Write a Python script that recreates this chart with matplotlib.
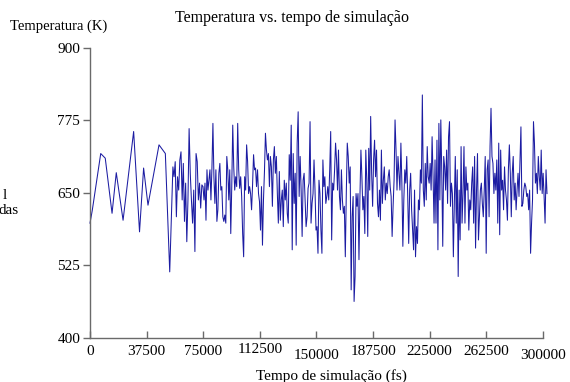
import numpy as np
import matplotlib
matplotlib.use("Agg")
import matplotlib.pyplot as plt
from matplotlib.transforms import ScaledTranslation

plt.rcParams['font.family'] = ['Liberation Serif', 'DejaVu Serif']

# trecho inicial (amostragem esparsa): tempo (fs) e temperatura (K)
t_inicio = [0, 1500, 7100, 10100, 14600, 17400, 21900, 28900, 32800, 35500, 38400, 45700, 49900, 52800]
T_inicio = [598, 620, 718, 710, 615, 685, 603, 756, 583, 693, 629, 733, 718, 514]

# trechos densos
T_a = [695, 678, 704, 609, 678, 655, 707, 721, 638, 701, 601, 667, 566, 638, 761, 684, 638, 598,
       655, 549, 718, 704, 638, 667, 624, 664]
T_b = [661, 638, 667, 603, 690, 655, 672, 690, 638, 693, 770, 678, 632, 690, 601, 621, 684, 701,
       655, 661, 609, 601, 612, 598, 713, 690, 638, 690, 580, 661, 767, 695, 655, 678, 661, 770,
       690, 658, 678, 644, 580, 540, 678, 655, 733, 704, 649, 661, 649, 621, 664, 716, 690, 693,
       661, 690, 649, 635, 586, 661, 560, 638, 687, 753, 724, 707, 718, 661, 713, 695, 627, 707,
       730, 684, 713, 649, 598, 687, 603, 638, 655, 592, 672, 638, 667, 615, 598, 716, 672, 767,
       552, 718, 632, 684, 560, 736, 790, 644, 713, 655, 575, 672, 684, 638, 592, 609, 658, 667,
       773, 598, 632, 649, 707, 655, 586, 592, 546, 672]
T_c = [649, 586, 546, 707, 661, 678, 632, 644, 661, 638, 690, 756, 569, 667, 655, 690, 736, 707,
       655, 724, 644, 621, 690, 638, 615, 627, 540, 649, 736, 713, 667, 695, 483, 609, 644, 463,
       506, 649, 627, 649, 535, 644, 724, 678, 621, 644, 580, 724, 672, 575, 727, 655, 782, 684,
       627, 707, 741, 678, 724, 632, 609, 655, 603, 724, 632, 672, 695, 638, 667, 649, 678, 690,
       661, 644, 575, 627, 672, 776, 724, 655, 713, 684, 655, 736, 667, 558, 638, 690, 667, 713,
       644, 563, 655, 684, 621, 586, 552, 655, 540, 592, 563, 638, 621, 690, 667, 819, 655, 627,
       701, 638, 730, 678, 667, 701, 655, 747, 678, 598]
T_d = [707, 598, 741, 552, 770, 638, 776, 684, 558, 713, 695, 655, 724, 632, 747, 773, 627, 667,
       649, 540, 632, 713, 598, 690, 506, 655, 569, 730, 598, 649, 730, 598, 695, 655, 667, 586,
       638, 621, 667, 695, 598, 713, 555, 655, 718, 569, 609, 655, 667, 632, 609, 655, 713, 546,
       690, 707, 609, 730, 796, 713, 701, 649, 684, 655, 707, 598, 736, 578, 724, 655, 672, 621,
       695, 655, 638, 603, 690, 733, 684, 609, 684, 713, 638, 667, 621, 655, 684, 644, 707, 764,
       627, 632, 655, 667, 661, 644, 649, 621, 655, 546, 598, 638, 773, 736, 667, 684, 649, 713,
       678, 655, 724, 649, 684, 644, 598, 690, 649]

# limites de tempo de cada trecho denso (fs)
limites = [54900, 74840, 152300, 228500, 303300]

trechos = [T_a, T_b, T_c, T_d]
tempo = list(t_inicio)
temp = list(T_inicio)
for i, tr in enumerate(trechos):
    tempo += list(np.linspace(limites[i], limites[i + 1], len(tr), endpoint=False))
    temp += tr

xticks = [0, 37500, 75000, 112500, 150000, 187500, 225000, 262500, 300000]
yticks = [400, 525, 650, 775, 900]

fig = plt.figure(figsize=(5.7, 3.82), dpi=100)
ax = fig.add_axes([0.1579, 0.1152, 0.7947, 0.7592])

ax.plot(tempo, temp, color='#1c1ca2', linewidth=0.75, clip_on=False)

ax.set_xlim(0, 300000)
ax.set_ylim(400, 900)
ax.set_xticks(xticks)
ax.set_xticklabels([str(v) for v in xticks])
ax.set_yticks(yticks)

for lado in ['top', 'right']:
    ax.spines[lado].set_visible(False)
for lado in ['left', 'bottom']:
    ax.spines[lado].set_color('#6a6a6a')
    ax.spines[lado].set_linewidth(1.0)

ax.tick_params(axis='y', direction='out', length=5, width=1, color='#6a6a6a', pad=2, labelsize=11)
ax.tick_params(axis='x', direction='in', length=5, width=1, color='#6a6a6a', pad=5, labelsize=11)

# alguns rótulos do eixo x ficam um pouco mais abaixo
for lab in ax.get_xticklabels():
    if lab.get_text() in ('150000', '300000'):
        lab.set_transform(lab.get_transform() + ScaledTranslation(0, -3 / 72, fig.dpi_scale_trans))
    elif lab.get_text() == '112500':
        lab.set_transform(lab.get_transform() + ScaledTranslation(0, 1.5 / 72, fig.dpi_scale_trans))

fig.text(0.512, 0.953, 'Temperatura vs. tempo de simulação', ha='center', va='center', fontsize=11.5)
fig.text(0.0175, 0.932, 'Temperatura (K)', ha='left', va='center', fontsize=10.5)
fig.text(0.581, 0.016, 'Tempo de simulação (fs)', ha='center', va='center', fontsize=11)

# restos de texto cortado na margem esquerda
fig.text(0.004, 0.487, 'l', ha='left', va='center', fontsize=11)
fig.text(-0.002, 0.448, 'das', ha='left', va='center', fontsize=11)

fig.savefig('out.png', dpi=100, facecolor='white')
